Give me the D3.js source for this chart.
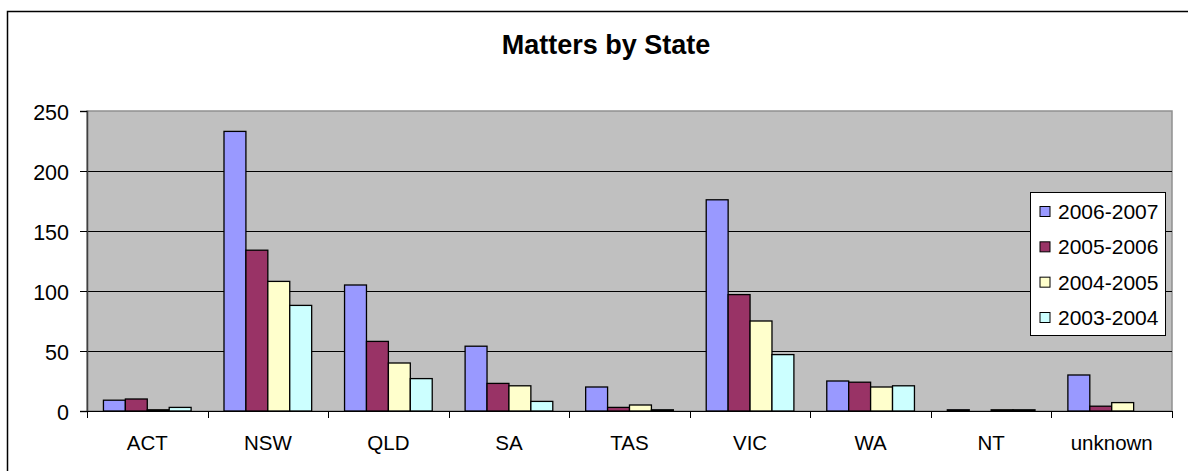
<!DOCTYPE html>
<html>
<head>
<meta charset="utf-8">
<script src="https://cdn.jsdelivr.net/npm/d3@7"></script>
<style>
  html, body { margin: 0; padding: 0; background: #fff; overflow: hidden; }
  svg { display: block; font-family: "Liberation Sans", Arial, sans-serif; }
</style>
</head>
<body>
<svg id="chart" width="1188" height="471"></svg>
<script>
const categories = ["ACT", "NSW", "QLD", "SA", "TAS", "VIC", "WA", "NT", "unknown"];
const seriesNames = ["2006-2007", "2005-2006", "2004-2005", "2003-2004"];
const values2006_2007 = [9, 233, 105, 54, 20, 176, 25, 1, 30];
const values2005_2006 = [10, 134, 58, 23, 3, 97, 24, 0, 4];
const values2004_2005 = [1, 108, 40, 21, 5, 75, 20, 1, 7];
const values2003_2004 = [3, 88, 27, 8, 1, 47, 21, 1, 0];
const yTicks = [0, 50, 100, 150, 200, 250];
const colors = ["#9999FF", "#993366", "#FFFFCC", "#CCFFFF"];
const title = "Matters by State";

const seriesValues = [values2006_2007, values2005_2006, values2004_2005, values2003_2004];

const svg = d3.select("#chart");
const plot = { left: 87, right: 1172, top: 111, bottom: 411 };

// chart area border (top and left edges visible; the rest lies outside the frame)
svg.append("path")
  .attr("d", "M7.5,471 V11.5 H1188")
  .attr("fill", "none")
  .attr("stroke", "#000").attr("stroke-width", 1.5);

// title
svg.append("text")
  .attr("x", 606).attr("y", 54)
  .attr("text-anchor", "middle")
  .attr("font-weight", "bold")
  .attr("font-size", 27)
  .text(title);

const x = d3.scaleBand().domain(categories).range([plot.left, plot.right]).padding(0);
const bw = x.bandwidth();
const xs = d3.scaleBand().domain(seriesNames)
  .range([bw * 0.75 / 5.5, bw * 4.75 / 5.5]).padding(0);
const y = d3.scaleLinear().domain([0, 250]).range([plot.bottom, plot.top]);

// plot area
svg.append("rect")
  .attr("x", plot.left).attr("y", plot.top)
  .attr("width", plot.right - plot.left).attr("height", plot.bottom - plot.top)
  .attr("fill", "#C0C0C0").attr("stroke", "#909090").attr("stroke-width", 1.5);

// gridlines
svg.append("g").selectAll("line")
  .data(yTicks.filter(t => t > 0 && t < 250))
  .join("line")
  .attr("x1", plot.left).attr("x2", plot.right)
  .attr("y1", d => Math.round(y(d)) + 0.5).attr("y2", d => Math.round(y(d)) + 0.5)
  .attr("stroke", "#000").attr("stroke-width", 1);

// y axis
const yAxis = d3.axisLeft(y).tickValues(yTicks).tickSize(7).tickPadding(11).tickFormat(d3.format("d"));
const gy = svg.append("g").attr("transform", `translate(${plot.left},0)`).call(yAxis);
gy.select(".domain").attr("stroke", "#404040").attr("stroke-width", 1.5);
gy.selectAll(".tick line").attr("stroke", "#000");
gy.selectAll(".tick text")
  .attr("font-size", 21.5)
  .attr("font-family", "'Liberation Sans', Arial, sans-serif")
  .attr("fill", "#000")
  .attr("dy", "0.4em");

// bars
const barData = [];
categories.forEach((c, i) => {
  seriesNames.forEach((s, j) => {
    barData.push({ cat: c, series: s, value: seriesValues[j][i], color: colors[j] });
  });
});
svg.append("g").selectAll("rect")
  .data(barData)
  .join("rect")
  .attr("x", d => x(d.cat) + xs(d.series))
  .attr("y", d => y(d.value))
  .attr("width", xs.bandwidth())
  .attr("height", d => y(0) - y(d.value))
  .attr("fill", d => d.color)
  .attr("stroke", "#000")
  .attr("stroke-width", 1.3);

// x axis
const xAxis = d3.axisBottom(x).tickSize(0).tickPadding(24);
const gx = svg.append("g").attr("transform", `translate(0,${plot.bottom})`).call(xAxis);
gx.select(".domain").attr("stroke", "#000").attr("stroke-width", 1.2);
gx.selectAll(".tick text")
  .attr("font-size", 20.5)
  .attr("font-family", "'Liberation Sans', Arial, sans-serif")
  .attr("fill", "#000");
// category boundary ticks
const boundaries = categories.map(c => x(c)).concat([plot.right]);
svg.append("g").selectAll("line")
  .data(boundaries)
  .join("line")
  .attr("x1", d => Math.round(d) + 0.5).attr("x2", d => Math.round(d) + 0.5)
  .attr("y1", plot.bottom).attr("y2", plot.bottom + 7)
  .attr("stroke", "#000");

// legend
const legend = svg.append("g");
legend.append("rect")
  .attr("x", 1030.5).attr("y", 192.5)
  .attr("width", 135).attr("height", 143)
  .attr("fill", "#fff").attr("stroke", "#000").attr("stroke-width", 1);
const ly = d3.scalePoint().domain(seriesNames).range([211.5, 317.5]);
const items = legend.selectAll("g.item").data(seriesNames).join("g").attr("class", "item");
items.append("rect")
  .attr("x", 1040).attr("y", d => ly(d) - 5)
  .attr("width", 10).attr("height", 10)
  .attr("fill", (d, i) => colors[i])
  .attr("stroke", "#000").attr("stroke-width", 1);
items.append("text")
  .attr("x", 1058).attr("y", d => ly(d))
  .attr("dy", "0.36em")
  .attr("font-size", 21)
  .text(d => d);
</script>
</body>
</html>
